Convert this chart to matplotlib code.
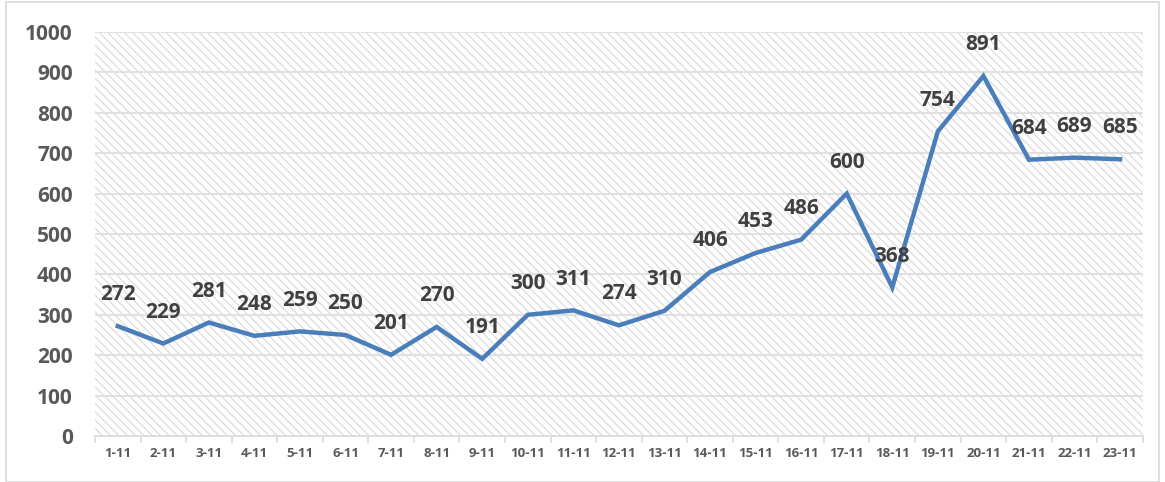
import numpy as np
import matplotlib.pyplot as plt
from matplotlib.patches import Rectangle

# data
days = ['1-11', '2-11', '3-11', '4-11', '5-11', '6-11', '7-11', '8-11', '9-11', '10-11',
        '11-11', '12-11', '13-11', '14-11', '15-11', '16-11', '17-11', '18-11', '19-11',
        '20-11', '21-11', '22-11', '23-11']
cases = [272, 229, 281, 248, 259, 250, 201, 270, 191, 300,
         311, 274, 310, 406, 453, 486, 600, 368, 754,
         891, 684, 689, 685]
yticks = [0, 100, 200, 300, 400, 500, 600, 700, 800, 900, 1000]

plt.rcParams['font.family'] = ['Open Sans', 'DejaVu Sans']
plt.rcParams['hatch.color'] = '#dcdcdc'
plt.rcParams['hatch.linewidth'] = 0.9

fig = plt.figure(figsize=(11.65, 4.82), dpi=100)
ax = fig.add_axes([0.0815, 0.0954, 0.8995, 0.8382])

# outer chart border
fig.patches.append(Rectangle((0.005, 0.0), 0.99, 0.995, transform=fig.transFigure,
                             fill=False, edgecolor='#d9d9d9', linewidth=1.2))

x = np.arange(len(days))

# hatched plot area
ax.add_patch(Rectangle((0, 0), 1, 1, transform=ax.transAxes, facecolor='white',
                       hatch='\\\\\\\\', edgecolor='#dcdcdc', linewidth=0, zorder=0))

for y in yticks[1:]:
    ax.axhline(y, color='#e0e0e0', linewidth=1.5, zorder=1)

ax.plot(x, cases, color='#4a7ebb', linewidth=3.2, solid_joinstyle='miter', zorder=3)

for xi, v in zip(x, cases):
    ax.annotate(str(v), (xi, v), xytext=(0, 15), textcoords='offset points',
                ha='center', va='bottom', fontsize=15, fontweight='bold',
                color='#404040', zorder=4)

ax.set_xlim(-0.5, len(days) - 0.5)
ax.set_ylim(0, 1000)
ax.set_yticks(yticks)
ax.set_yticklabels([str(t) for t in yticks], fontsize=15, fontweight='bold', color='#595959')
ax.set_xticks(x)
ax.set_xticklabels(days, fontsize=9.5, fontweight='bold', color='#595959')
ax.tick_params(axis='x', length=0, pad=8)
ax.tick_params(axis='y', length=0, pad=16)
ax.set_xticks(np.arange(len(days) + 1) - 0.5, minor=True)
ax.tick_params(axis='x', which='minor', length=5, color='#d9d9d9', width=1.2)

for s in ['top', 'right', 'left']:
    ax.spines[s].set_visible(False)
ax.spines['bottom'].set_color('#d9d9d9')
ax.spines['bottom'].set_linewidth(1.2)

plt.savefig('out.png', dpi=100)
